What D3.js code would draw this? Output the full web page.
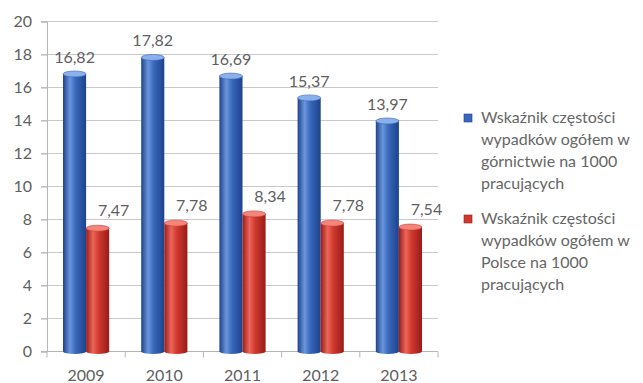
<!DOCTYPE html>
<html>
<head>
<meta charset="utf-8">
<script src="https://cdn.jsdelivr.net/npm/d3@7/dist/d3.min.js"></script>
<style>
  html, body { margin: 0; padding: 0; background: #fff; }
  svg { display: block; font-family: Lato, "Open Sans", sans-serif; }
</style>
</head>
<body>
<svg id="chart" width="643" height="383"></svg>
<script>
// Accident frequency per 1000 workers, mining vs. all of Poland
const years = ["2009", "2010", "2011", "2012", "2013"];
const mining = [16.82, 17.82, 16.69, 15.37, 13.97];
const poland = [7.47, 7.78, 8.34, 7.78, 7.54];
const yTicks = [0, 2, 4, 6, 8, 10, 12, 14, 16, 18, 20];
const legendMining = ["Wskaźnik częstości", "wypadków ogółem w", "górnictwie na 1000", "pracujących"];
const legendPoland = ["Wskaźnik częstości", "wypadków ogółem w", "Polsce na 1000", "pracujących"];

const series = [
  { key: "mining", values: mining, light: "#6a96dc", mid: "#3967bb", dark: "#1d428c", cap: "#8cb0ea", labelDx: 0, labelDy: -11 },
  { key: "poland", values: poland, light: "#ec665a", mid: "#d0382e", dark: "#981c18", cap: "#f2867c", labelDx: 16, labelDy: -12 }
];

const svg = d3.select("#chart");
const textColor = "#606060";
const fontSize = "16px";

const x = d3.scaleBand().domain(years).range([47, 438]);
const x1 = d3.scaleBand().domain(series.map(s => s.key)).range([16, x.bandwidth() - 16]);
const y = d3.scaleLinear().domain([0, 20]).range([351.5, 21.5]);

// Horizontal cylinder shading
const defs = svg.append("defs");
series.forEach(s => {
  const g = defs.append("linearGradient").attr("id", "grad-" + s.key)
    .attr("x1", "0%").attr("x2", "100%").attr("y1", "0%").attr("y2", "0%");
  g.append("stop").attr("offset", "0%").attr("stop-color", s.dark);
  g.append("stop").attr("offset", "30%").attr("stop-color", s.light);
  g.append("stop").attr("offset", "55%").attr("stop-color", s.mid);
  g.append("stop").attr("offset", "100%").attr("stop-color", s.dark);
});

// Gridlines
svg.append("g").selectAll("line").data(yTicks.filter(t => t > 0)).join("line")
  .attr("x1", 41).attr("x2", 438)
  .attr("y1", d => y(d)).attr("y2", d => y(d))
  .attr("stroke", "#c9c9c9").attr("stroke-width", 1.2);

// Y axis
const yAxis = svg.append("g").attr("transform", "translate(47,0)")
  .call(d3.axisLeft(y).tickValues(yTicks).tickSize(6).tickPadding(9).tickFormat(d3.format("d")));
yAxis.select(".domain").attr("stroke", "#b5b5b5");
yAxis.selectAll(".tick line").attr("stroke", "#b5b5b5");
yAxis.selectAll("text").attr("fill", textColor).style("font-size", fontSize).style("font-family", "Lato, sans-serif");

// X axis with ticks between categories
const xAxisG = svg.append("g").attr("transform", `translate(0,${y(0)})`);
xAxisG.append("line").attr("x1", 41).attr("x2", 438).attr("stroke", "#b5b5b5").attr("stroke-width", 1.2);
const bounds = years.map(d => x(d)).concat([x(years[years.length - 1]) + x.bandwidth()]);
xAxisG.selectAll("line.tk").data(bounds).join("line").attr("class", "tk")
  .attr("x1", d => d).attr("x2", d => d).attr("y1", 0).attr("y2", 6)
  .attr("stroke", "#b5b5b5");
xAxisG.selectAll("text").data(years).join("text")
  .attr("x", d => x(d) + x.bandwidth() / 2).attr("y", 29)
  .attr("text-anchor", "middle").attr("fill", textColor).style("font-size", fontSize)
  .text(d => d);

// Bars as shaded cylinders
const fmt = v => v.toFixed(2).replace(".", ",");
series.forEach(s => {
  const g = svg.append("g");
  const bw = x1.bandwidth();
  const data = years.map((yr, i) => ({ yr, v: s.values[i] }));
  g.selectAll("rect").data(data).join("rect")
    .attr("x", d => x(d.yr) + x1(s.key))
    .attr("y", d => y(d.v))
    .attr("width", bw)
    .attr("height", d => y(0) - y(d.v))
    .attr("fill", `url(#grad-${s.key})`);
  g.selectAll("ellipse.bottom").data(data).join("ellipse").attr("class", "bottom")
    .attr("cx", d => x(d.yr) + x1(s.key) + bw / 2)
    .attr("cy", y(0))
    .attr("rx", bw / 2).attr("ry", 2.5)
    .attr("fill", `url(#grad-${s.key})`);
  g.selectAll("ellipse.top").data(data).join("ellipse").attr("class", "top")
    .attr("cx", d => x(d.yr) + x1(s.key) + bw / 2)
    .attr("cy", d => y(d.v))
    .attr("rx", bw / 2).attr("ry", 3)
    .attr("fill", s.cap).attr("stroke", s.mid).attr("stroke-width", 0.6);
  g.selectAll("text").data(data).join("text")
    .attr("x", d => x(d.yr) + x1(s.key) + bw / 2 + s.labelDx)
    .attr("y", d => y(d.v) + s.labelDy)
    .attr("text-anchor", "middle").attr("fill", textColor).style("font-size", fontSize)
    .text(d => fmt(d.v));
});

// Legend
const legend = svg.append("g");
[[legendMining, series[0], 118], [legendPoland, series[1], 219]].forEach(([lines, s, top]) => {
  legend.append("rect").attr("x", 464).attr("y", top - 4).attr("width", 8).attr("height", 8)
    .attr("fill", s.mid).attr("stroke", s.dark).attr("stroke-width", 0.6);
  const t = legend.append("text").attr("x", 481).attr("y", top + 5)
    .attr("fill", "#666").style("font-size", fontSize);
  lines.forEach((ln, i) => {
    t.append("tspan").attr("x", 481).attr("dy", i === 0 ? 0 : 22).text(ln);
  });
});
</script>
</body>
</html>
